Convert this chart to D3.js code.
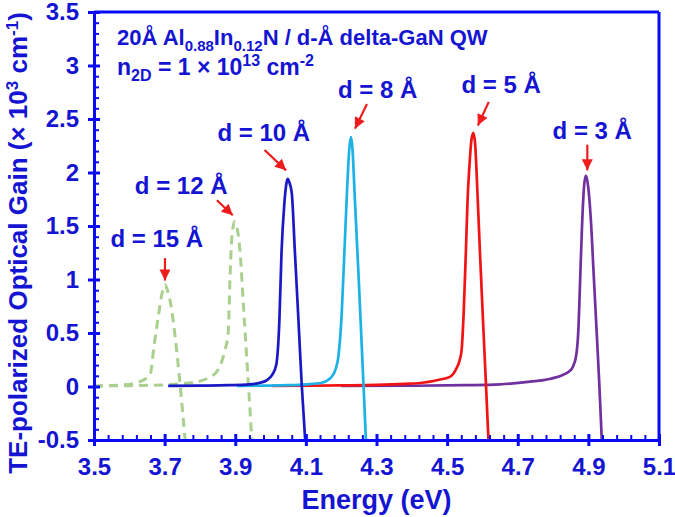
<!DOCTYPE html>
<html>
<head>
<meta charset="utf-8">
<script src="https://cdn.jsdelivr.net/npm/d3@7"></script>
<style>
  html, body { margin: 0; padding: 0; background: #fff; }
  svg { display: block; }
  text { font-family: "Liberation Sans", Arial, sans-serif; font-weight: bold; }
</style>
</head>
<body>
<div id="chart"></div>
<script>
// ---------------- DATA ----------------
const xTickValues = [3.5, 3.7, 3.9, 4.1, 4.3, 4.5, 4.7, 4.9, 5.1];
const xTickLabels = ["3.5", "3.7", "3.9", "4.1", "4.3", "4.5", "4.7", "4.9", "5.1"];
const yTickValues = [-0.5, 0, 0.5, 1, 1.5, 2, 2.5, 3, 3.5];
const yTickLabels = ["-0.5", "0", "0.5", "1", "1.5", "2", "2.5", "3", "3.5"];

// d = 15 Å (green dashed)
const e15 = [3.50, 3.58, 3.63, 3.645, 3.659, 3.670, 3.682, 3.692, 3.701, 3.708, 3.715, 3.734, 3.748, 3.758];
const g15 = [0.005, 0.015, 0.045, 0.07, 0.11, 0.38, 0.65, 0.86, 0.95, 0.90, 0.81, 0.34, -0.13, -0.50];
// d = 12 Å (green dashed)
const e12 = [3.50, 3.60, 3.70, 3.76, 3.80, 3.829, 3.848, 3.857, 3.870, 3.880, 3.885, 3.890, 3.898, 3.904, 3.913, 3.925, 3.937, 3.947];
const g12 = [0.005, 0.008, 0.015, 0.03, 0.05, 0.09, 0.14, 0.19, 0.33, 0.50, 1.00, 1.38, 1.54, 1.50, 1.28, 0.66, 0.03, -0.50];
// d = 10 Å (dark blue)
const e10 = [3.71, 3.80, 3.88, 3.94, 3.97, 3.99, 4.005, 4.016, 4.025, 4.031, 4.039, 4.045, 4.049, 4.053, 4.060, 4.069, 4.079, 4.088, 4.098];
const g10 = [0.005, 0.008, 0.012, 0.02, 0.035, 0.06, 0.11, 0.20, 0.62, 1.25, 1.71, 1.90, 1.94, 1.91, 1.81, 1.25, 0.62, 0.03, -0.50];
// d = 8 Å (light blue)
const e8 = [3.905, 3.98, 4.05, 4.10, 4.145, 4.170, 4.185, 4.192, 4.201, 4.209, 4.217, 4.223, 4.228, 4.232, 4.238, 4.250, 4.263, 4.270];
const g8 = [0.005, 0.008, 0.012, 0.02, 0.035, 0.08, 0.17, 0.28, 0.65, 1.25, 1.86, 2.22, 2.33, 2.22, 1.80, 0.98, 0.03, -0.50];
// d = 5 Å (red)
const e5 = [4.004, 4.10, 4.20, 4.30, 4.38, 4.43, 4.452, 4.48, 4.508, 4.525, 4.535, 4.541, 4.547, 4.553, 4.558, 4.563, 4.568, 4.574, 4.579, 4.586, 4.593, 4.601, 4.610, 4.617];
const g5 = [0.005, 0.007, 0.01, 0.015, 0.025, 0.035, 0.045, 0.065, 0.09, 0.16, 0.24, 0.34, 0.70, 1.25, 1.75, 2.05, 2.28, 2.37, 2.28, 1.80, 1.25, 0.66, 0.02, -0.50];
// d = 3 Å (purple)
const e3 = [4.20, 4.40, 4.55, 4.65, 4.735, 4.79, 4.829, 4.845, 4.857, 4.866, 4.872, 4.876, 4.882, 4.888, 4.893, 4.899, 4.907, 4.915, 4.923, 4.931, 4.938];
const g3 = [0.005, 0.007, 0.012, 0.02, 0.045, 0.07, 0.11, 0.14, 0.19, 0.30, 0.55, 0.93, 1.50, 1.88, 1.97, 1.88, 1.56, 1.05, 0.54, 0.02, -0.50];

const seriesNames = ["d = 15 Å", "d = 12 Å", "d = 3 Å", "d = 5 Å", "d = 8 Å", "d = 10 Å"];
const seriesE = [e15, e12, e3, e5, e8, e10];
const seriesG = [g15, g12, g3, g5, g8, g10];

// annotations
const annLabels = ["d = 15 Å", "d = 12 Å", "d = 10 Å", "d = 8 Å", "d = 5 Å", "d = 3 Å"];
const annLabelE = [3.678, 3.747, 3.981, 4.303, 4.653, 4.911];
const annLabelG = [1.30, 1.80, 2.29, 2.70, 2.74, 2.31];
const arrowFromE = [3.701, 3.848, 3.983, 4.273, 4.618, 4.897];
const arrowFromG = [1.20, 1.74, 2.21, 2.64, 2.66, 2.26];
const arrowToE = [3.701, 3.893, 4.044, 4.239, 4.587, 4.897];
const arrowToG = [0.99, 1.60, 2.02, 2.41, 2.44, 2.02];

// ---------------- STYLE ----------------
const W = 675, H = 517;
const plot = { left: 94, right: 659, top: 12, bottom: 440 };
const axisColor = "#0a0af5";
const textColor = "#1414d2";
const seriesColor = {
  "d = 15 Å": "#a9d08e", "d = 12 Å": "#a9d08e", "d = 10 Å": "#1a1ac4",
  "d = 8 Å": "#1cb2e6", "d = 5 Å": "#f01414", "d = 3 Å": "#7030a0"
};
const dashed = { "d = 15 Å": true, "d = 12 Å": true };

const svg = d3.select("#chart").append("svg").attr("width", W).attr("height", H);

const x = d3.scaleLinear().domain([3.5, 5.1]).range([plot.left, plot.right]);
const y = d3.scaleLinear().domain([-0.5, 3.5]).range([plot.bottom, plot.top]);

// ---------------- CURVES ----------------
const line = d3.line().x(d => x(d[0])).y(d => y(d[1])).curve(d3.curveMonotoneX);
seriesNames.forEach((name, i) => {
  const pts = seriesE[i].map((e, j) => [e, seriesG[i][j]]);
  svg.append("path")
    .attr("d", line(pts))
    .attr("fill", "none")
    .attr("stroke", seriesColor[name])
    .attr("stroke-width", dashed[name] ? 3 : 2.7)
    .attr("stroke-dasharray", dashed[name] ? "9,6" : null)
    .attr("stroke-linejoin", "round");
});

// ---------------- FRAME & AXES ----------------
svg.append("line").attr("x1", x(3.5)).attr("x2", x(5.1)).attr("y1", y(3.5)).attr("y2", y(3.5))
  .attr("stroke", axisColor).attr("stroke-width", 3);
svg.append("line").attr("x1", x(5.1)).attr("x2", x(5.1)).attr("y1", y(3.5)).attr("y2", y(-0.5))
  .attr("stroke", axisColor).attr("stroke-width", 3);

// x minor ticks
const xMinor = d3.range(0, 41).map(i => 3.5 + i * 0.04).filter((v, i) => i % 5 !== 0);
svg.append("g").attr("transform", `translate(0,${y(-0.5)})`)
  .call(d3.axisBottom(x).tickValues(xMinor).tickSize(-5).tickSizeOuter(0).tickFormat(""))
  .call(g => g.select(".domain").remove())
  .call(g => g.selectAll("line").attr("stroke", axisColor).attr("stroke-width", 2));
// y minor ticks
const yMinor = d3.range(0, 41).map(i => -0.5 + i * 0.1).filter((v, i) => i % 5 !== 0);
svg.append("g").attr("transform", `translate(${x(3.5)},0)`)
  .call(d3.axisLeft(y).tickValues(yMinor).tickSize(-5).tickSizeOuter(0).tickFormat(""))
  .call(g => g.select(".domain").remove())
  .call(g => g.selectAll("line").attr("stroke", axisColor).attr("stroke-width", 2));

// x major axis
const gx = svg.append("g").attr("transform", `translate(0,${y(-0.5)})`)
  .call(d3.axisBottom(x).tickValues(xTickValues).tickSize(6).tickSizeOuter(0).tickPadding(12)
    .tickFormat((d, i) => xTickLabels[i]));
gx.select(".domain").attr("stroke", axisColor).attr("stroke-width", 3);
gx.selectAll("line").attr("stroke", axisColor).attr("stroke-width", 3).attr("y1", -6);
gx.selectAll("text").attr("fill", textColor).attr("font-size", 24)
  .attr("font-family", '"Liberation Sans", Arial, sans-serif').attr("font-weight", "bold");

// y major axis
const gy = svg.append("g").attr("transform", `translate(${x(3.5)},0)`)
  .call(d3.axisLeft(y).tickValues(yTickValues).tickSize(6).tickSizeOuter(0).tickPadding(9)
    .tickFormat((d, i) => yTickLabels[i]));
gy.select(".domain").attr("stroke", axisColor).attr("stroke-width", 3);
gy.selectAll("line").attr("stroke", axisColor).attr("stroke-width", 3).attr("x1", 6);
gy.selectAll("text").attr("fill", textColor).attr("font-size", 24)
  .attr("font-family", '"Liberation Sans", Arial, sans-serif').attr("font-weight", "bold");

// ---------------- AXIS TITLES ----------------
svg.append("text").attr("x", (plot.left + plot.right) / 2).attr("y", 509)
  .attr("text-anchor", "middle").attr("font-size", 27).attr("fill", textColor)
  .text("Energy (eV)");

const yt = svg.append("text").attr("transform", "translate(27,243) rotate(-90)")
  .attr("text-anchor", "middle").attr("font-size", 26).attr("fill", textColor);
yt.append("tspan").text("TE-polarized Optical Gain (× 10");
yt.append("tspan").attr("dy", -9).attr("font-size", 17).text("3");
yt.append("tspan").attr("dy", 9).text(" cm");
yt.append("tspan").attr("dy", -9).attr("font-size", 17).text("-1");
yt.append("tspan").attr("dy", 9).text(")");

// ---------------- TITLE ----------------
const t1 = svg.append("text").attr("x", 117).attr("y", 45).attr("font-size", 22).attr("fill", textColor);
t1.append("tspan").text("20Å Al");
t1.append("tspan").attr("dy", 6).attr("font-size", 15).text("0.88");
t1.append("tspan").attr("dy", -6).text("In");
t1.append("tspan").attr("dy", 6).attr("font-size", 15).text("0.12");
t1.append("tspan").attr("dy", -6).text("N / d-Å delta-GaN QW");

const t2 = svg.append("text").attr("x", 117).attr("y", 75).attr("font-size", 23).attr("fill", textColor);
t2.append("tspan").text("n");
t2.append("tspan").attr("dy", 6).attr("font-size", 16).text("2D");
t2.append("tspan").attr("dy", -6).text(" = 1 × 10");
t2.append("tspan").attr("dy", -9).attr("font-size", 16).text("13");
t2.append("tspan").attr("dy", 9).text(" cm");
t2.append("tspan").attr("dy", -9).attr("font-size", 16).text("-2");

// ---------------- ANNOTATIONS ----------------
const defs = svg.append("defs");
defs.append("marker").attr("id", "arrowhead")
  .attr("viewBox", "0 0 10 10").attr("refX", 10).attr("refY", 5)
  .attr("markerWidth", 13).attr("markerHeight", 11).attr("markerUnits", "userSpaceOnUse")
  .attr("orient", "auto")
  .append("path").attr("d", "M0,0 L10,5 L0,10 Z").attr("fill", "#ee1c1c");

annLabels.forEach((lab, i) => {
  svg.append("text").attr("x", x(annLabelE[i])).attr("y", y(annLabelG[i]))
    .attr("text-anchor", "middle").attr("font-size", 24).attr("fill", textColor).text(lab);
  svg.append("line")
    .attr("x1", x(arrowFromE[i])).attr("y1", y(arrowFromG[i]))
    .attr("x2", x(arrowToE[i])).attr("y2", y(arrowToG[i]))
    .attr("stroke", "#ee1c1c").attr("stroke-width", 2.2)
    .attr("marker-end", "url(#arrowhead)");
});
</script>
</body>
</html>
